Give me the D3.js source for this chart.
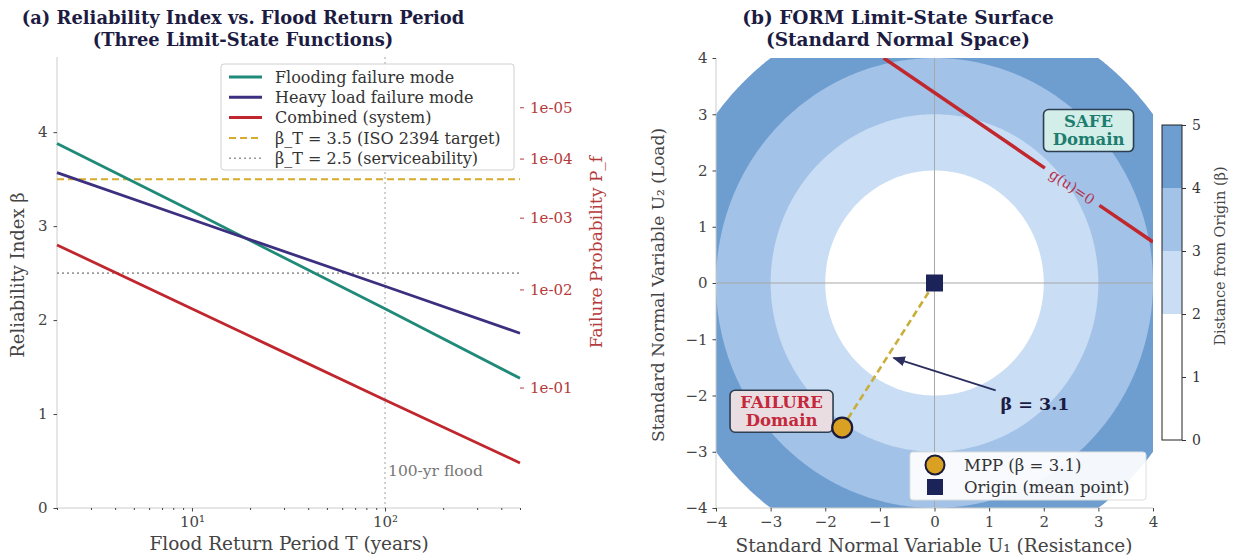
<!DOCTYPE html>
<html>
<head>
<meta charset="utf-8">
<script src="https://cdn.jsdelivr.net/npm/d3@7"></script>
<style>
body { margin: 0; background: #fff; }
text { font-family: "DejaVu Serif", serif; }
</style>
</head>
<body>
<svg width="1236" height="557"></svg>
<script>
// ---- panel (a) data
var periods = [2, 10, 100, 500];
var betaFlood = [3.88, 3.16, 2.12, 1.38];
var betaLoad = [3.57, 3.07, 2.36, 1.86];
var betaSystem = [2.80, 2.12, 1.15, 0.48];
var targetBeta = 3.5, serviceBeta = 2.5, designFlood = 100;
var pfTickLabels = ["1e-05", "1e-04", "1e-03", "1e-02", "1e-01"];
var pfTickBeta = [4.265, 3.719, 3.090, 2.326, 1.282];   // -Phi^-1(pf)
var legendNames = ["Flooding failure mode", "Heavy load failure mode", "Combined (system)",
                   "β_T = 3.5 (ISO 2394 target)", "β_T = 2.5 (serviceability)"];

// ---- panel (b) data
var mpp = [-1.69, -2.57];
var gLineU1 = [-0.93, 4.0], gLineU2 = [4.0, 0.73];
var gLabelU1 = 2.52;
var distLevels = [0, 1, 2, 3, 4, 5];
var bandColors = ["#ffffff", "#ffffff", "#c9ddf4", "#a2c2e8", "#6e9dcf"];

var svg = d3.select("svg");
var navy = "#1c1c42", spine = "#cccccc", tickCol = "#444";

function styleAxis(g, col) {
  g.select(".domain").remove();
  g.selectAll(".tick line").attr("stroke", col || tickCol);
  g.selectAll(".tick text").attr("fill", col || tickCol).style("font-size", "15px")
    .style("font-family", "DejaVu Serif");
}
function label(xp, yp, rot, size, col, txt) {
  return svg.append("text").attr("transform", "translate(" + xp + "," + yp + ") rotate(" + rot + ")")
    .attr("text-anchor", "middle").style("font-size", size + "px").attr("fill", col).text(txt);
}

// ===================== panel (a)
var x = d3.scaleLog().domain([2, 500]).range([57, 520]);
var y = d3.scaleLinear().domain([0, 4.8]).range([508, 57]);

label(243, 24, 0, 17.9, navy, "(a) Reliability Index vs. Flood Return Period").style("font-weight", "bold");
label(243, 46, 0, 17.9, navy, "(Three Limit-State Functions)").style("font-weight", "bold");

// spines
svg.append("line").attr("x1", 57).attr("x2", 57).attr("y1", 57).attr("y2", 508).attr("stroke", spine);
svg.append("line").attr("x1", 57).attr("x2", 520).attr("y1", 508).attr("y2", 508).attr("stroke", spine);

// x axis: major + minor ticks
var minor = [];
[1, 10, 100].forEach(function (dec) {
  for (var k = 2; k <= 9; k++) { var v = dec * k; if (v >= 2 && v <= 500 && v !== 10 && v !== 100) minor.push(v); }
});
var gxMinor = svg.append("g").attr("transform", "translate(0,508)")
  .call(d3.axisBottom(x).tickValues(minor).tickSize(2).tickFormat(""));
styleAxis(gxMinor);
var gx = svg.append("g").attr("transform", "translate(0,508)")
  .call(d3.axisBottom(x).tickValues([10, 100]).tickSize(3.5).tickPadding(5)
    .tickFormat(function (d) { return d === 10 ? "10¹" : "10²"; }));
styleAxis(gx);

var gy = svg.append("g").attr("transform", "translate(57,0)")
  .call(d3.axisLeft(y).tickValues([0, 1, 2, 3, 4]).tickSize(3.5).tickPadding(6).tickFormat(d3.format("d")));
styleAxis(gy);

// right axis failure probability
var pfCol = "#b53a3a";
var gr = svg.append("g").attr("transform", "translate(520,0)")
  .call(d3.axisRight(y).tickValues(pfTickBeta).tickSize(4).tickPadding(6)
    .tickFormat(function (d, i) { return pfTickLabels[i]; }));
styleAxis(gr, pfCol);

label(24, 275, -90, 18, tickCol, "Reliability Index β");
label(602, 252, -90, 17, pfCol, "Failure Probability P_f");
label(289, 550, 0, 18.5, tickCol, "Flood Return Period T (years)");

// reference lines
svg.append("line").attr("x1", x(designFlood)).attr("x2", x(designFlood)).attr("y1", 57).attr("y2", 508)
  .attr("stroke", "#b5b5b5").attr("stroke-width", 1.3).attr("stroke-dasharray", "2,3");
svg.append("text").attr("x", x(designFlood) + 3).attr("y", 476).style("font-size", "15.5px")
  .attr("fill", "#777").text("100-yr flood");
svg.append("line").attr("x1", 57).attr("x2", 520).attr("y1", y(serviceBeta)).attr("y2", y(serviceBeta))
  .attr("stroke", "#9a9a9a").attr("stroke-width", 1.6).attr("stroke-dasharray", "2,3");
svg.append("line").attr("x1", 57).attr("x2", 520).attr("y1", y(targetBeta)).attr("y2", y(targetBeta))
  .attr("stroke", "#d6ab2e").attr("stroke-width", 2).attr("stroke-dasharray", "7,4");

var seriesA = [
  { vals: betaFlood, col: "#1f8a78" },
  { vals: betaLoad, col: "#3d2f7f" },
  { vals: betaSystem, col: "#c0262d" }
];
var lineA = d3.line().x(function (d, i) { return x(periods[i]); }).y(function (d) { return y(d); });
seriesA.forEach(function (s) {
  svg.append("path").attr("d", lineA(s.vals)).attr("fill", "none")
    .attr("stroke", s.col).attr("stroke-width", 2.8);
});

// legend
var lg = svg.append("g");
lg.append("rect").attr("x", 221).attr("y", 64).attr("width", 293).attr("height", 106).attr("rx", 3)
  .attr("fill", "#fff").attr("fill-opacity", 0.9).attr("stroke", "#d0d0d0");
var legStyles = [
  { col: "#1f8a78", w: 3, dash: null },
  { col: "#3d2f7f", w: 3, dash: null },
  { col: "#c0262d", w: 3, dash: null },
  { col: "#d6ab2e", w: 2, dash: "7,4" },
  { col: "#9a9a9a", w: 1.6, dash: "2,3" }
];
legendNames.forEach(function (n, i) {
  var yy = 77 + i * 20.3;
  lg.append("line").attr("x1", 229).attr("x2", 262).attr("y1", yy).attr("y2", yy)
    .attr("stroke", legStyles[i].col).attr("stroke-width", legStyles[i].w)
    .attr("stroke-dasharray", legStyles[i].dash);
  lg.append("text").attr("x", 275).attr("y", yy).attr("dy", "0.35em").style("font-size", "16px")
    .attr("fill", "#333").text(n);
});

// ===================== panel (b)
var xs = d3.scaleLinear().domain([-4, 4]).range([716, 1153]);
var ys = d3.scaleLinear().domain([-4, 4]).range([508, 58]);

label(898, 24, 0, 18.5, navy, "(b) FORM Limit-State Surface").style("font-weight", "bold");
label(898, 46, 0, 18.5, navy, "(Standard Normal Space)").style("font-weight", "bold");

svg.append("clipPath").attr("id", "clipB").append("rect")
  .attr("x", 716).attr("y", 58).attr("width", 437).attr("height", 450);

// distance field contours
var n = 161, step = 8 / (n - 1), grid = new Array(n * n);
for (var j = 0; j < n; j++) for (var i = 0; i < n; i++) {
  var u1 = -4 + i * step, u2 = -4 + j * step;
  grid[i + j * n] = Math.sqrt(u1 * u1 + u2 * u2);
}
var proj = d3.geoTransform({ point: function (px, py) {
  this.stream.point(xs(-4 + (px - 0.5) * step), ys(-4 + (py - 0.5) * step));
} });
var cpath = d3.geoPath(proj);
var contB = svg.append("g").attr("clip-path", "url(#clipB)");
var fills = [
  { t: 2, col: bandColors[2] }, { t: 3, col: bandColors[3] },
  { t: 4, col: bandColors[4] }, { t: 5, col: "#ffffff" }
];
var conts = d3.contours().size([n, n]).thresholds(fills.map(function (f) { return f.t; }))(grid);
conts.forEach(function (c, k) {
  contB.append("path").attr("d", cpath(c)).attr("fill", fills[k].col);
});

// zero lines
contB.append("line").attr("x1", 716).attr("x2", 1153).attr("y1", ys(0)).attr("y2", ys(0))
  .attr("stroke", "#a8a8a8").attr("stroke-width", 1);
contB.append("line").attr("x1", xs(0)).attr("x2", xs(0)).attr("y1", 58).attr("y2", 508)
  .attr("stroke", "#a8a8a8").attr("stroke-width", 1);

// spines + axes
svg.append("line").attr("x1", 716).attr("x2", 716).attr("y1", 58).attr("y2", 508).attr("stroke", spine);
svg.append("line").attr("x1", 716).attr("x2", 1153).attr("y1", 508).attr("y2", 508).attr("stroke", spine);
var gbx = svg.append("g").attr("transform", "translate(0,508)")
  .call(d3.axisBottom(xs).ticks(8).tickSize(3.5).tickPadding(5));
styleAxis(gbx);
var gby = svg.append("g").attr("transform", "translate(716,0)")
  .call(d3.axisLeft(ys).ticks(8).tickSize(3.5).tickPadding(5));
styleAxis(gby);
label(934, 552, 0, 18.5, tickCol, "Standard Normal Variable U₁ (Resistance)");
label(664, 285, -90, 17, tickCol, "Standard Normal Variable U₂ (Load)");

// limit state line with inline label
var p0 = [xs(gLineU1[0]), ys(gLineU2[0])], p1 = [xs(gLineU1[1]), ys(gLineU2[1])];
var f = (gLabelU1 - gLineU1[0]) / (gLineU1[1] - gLineU1[0]);
var len = Math.hypot(p1[0] - p0[0], p1[1] - p0[1]), gap = 33 / len;
function lerp(t) { return [p0[0] + (p1[0] - p0[0]) * t, p0[1] + (p1[1] - p0[1]) * t]; }
[[0, f - gap], [f + gap, 1]].forEach(function (seg) {
  var a = lerp(seg[0]), b = lerp(seg[1]);
  contB.append("line").attr("x1", a[0]).attr("y1", a[1]).attr("x2", b[0]).attr("y2", b[1])
    .attr("stroke", "#c0282d").attr("stroke-width", 3.5);
});
var lc = lerp(f), ang = Math.atan2(p1[1] - p0[1], p1[0] - p0[0]) * 180 / Math.PI;
label(lc[0], lc[1], ang, 14.5, "#b3344f", "g(u)=0").attr("dy", "0.35em");

// domain boxes
function domainBox(cu1, cu2, w, h, lines, txtCol, fillCol) {
  var cx = xs(cu1), cy = ys(cu2);
  svg.append("rect").attr("x", cx - w / 2).attr("y", cy - h / 2).attr("width", w).attr("height", h)
    .attr("rx", 5).attr("fill", fillCol).attr("stroke", "#2c3e50").attr("stroke-width", 1.6);
  lines.forEach(function (t, k) {
    svg.append("text").attr("x", cx).attr("y", cy + (k - 0.5) * 18).attr("dy", "0.35em")
      .attr("text-anchor", "middle").style("font-size", "16.5px").style("font-weight", "bold")
      .attr("fill", txtCol).text(t);
  });
}
domainBox(2.82, 2.71, 90, 42, ["SAFE", "Domain"], "#1d7d6e", "#d3ede9");
domainBox(-2.8, -2.28, 103, 42, ["FAILURE", "Domain"], "#c3283b", "#eadde1");

// beta vector
svg.append("line").attr("x1", xs(0)).attr("y1", ys(0)).attr("x2", xs(mpp[0])).attr("y2", ys(mpp[1]))
  .attr("stroke", "#c9ae3c").attr("stroke-width", 2.6).attr("stroke-dasharray", "7,4");

// arrow annotation
svg.append("defs").append("marker").attr("id", "arr").attr("viewBox", "0 0 10 10")
  .attr("refX", 9).attr("refY", 5).attr("markerWidth", 7).attr("markerHeight", 7)
  .attr("orient", "auto").append("path").attr("d", "M0,1 L10,5 L0,9 z").attr("fill", "#2b2f5e");
svg.append("line").attr("x1", xs(1.12)).attr("y1", ys(-1.91)).attr("x2", xs(-0.75)).attr("y2", ys(-1.33))
  .attr("stroke", "#2b2f5e").attr("stroke-width", 1.8).attr("marker-end", "url(#arr)");
label(xs(1.84), ys(-2.14), 0, 17.5, navy, "β = 3.1").attr("dy", "0.35em").style("font-weight", "bold");

// points
svg.append("circle").attr("cx", xs(mpp[0])).attr("cy", ys(mpp[1])).attr("r", 10)
  .attr("fill", "#d9a022").attr("stroke", "#1a1a3a").attr("stroke-width", 2.2);
svg.append("rect").attr("x", xs(0) - 8.5).attr("y", ys(0) - 8.5).attr("width", 17).attr("height", 17)
  .attr("fill", "#1b2358");

// legend (b)
svg.append("rect").attr("x", 910).attr("y", 452).attr("width", 236).attr("height", 48).attr("rx", 3)
  .attr("fill", "#fff").attr("fill-opacity", 0.92).attr("stroke", "#dddddd");
svg.append("circle").attr("cx", 935).attr("cy", 465).attr("r", 9.5)
  .attr("fill", "#d9a022").attr("stroke", "#1a1a3a").attr("stroke-width", 2);
svg.append("rect").attr("x", 927).attr("y", 479).attr("width", 16).attr("height", 16).attr("fill", "#1b2358");
svg.append("text").attr("x", 964).attr("y", 465).attr("dy", "0.35em").style("font-size", "16.5px")
  .attr("fill", "#333").text("MPP (β = 3.1)");
svg.append("text").attr("x", 964).attr("y", 487).attr("dy", "0.35em").style("font-size", "16.5px")
  .attr("fill", "#333").text("Origin (mean point)");

// colorbar
var cb = d3.scaleLinear().domain([0, 5]).range([440, 125]);
bandColors.forEach(function (c, k) {
  svg.append("rect").attr("x", 1162).attr("y", cb(distLevels[k + 1])).attr("width", 20)
    .attr("height", cb(distLevels[k]) - cb(distLevels[k + 1])).attr("fill", c);
});
svg.append("rect").attr("x", 1162).attr("y", 125).attr("width", 20).attr("height", 315)
  .attr("fill", "none").attr("stroke", "#222").attr("stroke-width", 1);
var gcb = svg.append("g").attr("transform", "translate(1182,0)")
  .call(d3.axisRight(cb).tickValues(distLevels).tickSize(4).tickPadding(6).tickFormat(d3.format("d")));
styleAxis(gcb, "#333");
gcb.selectAll(".tick text").style("font-size", "14px");
label(1225, 256, -90, 14.5, tickCol, "Distance from Origin (β)");
</script>
</body>
</html>
